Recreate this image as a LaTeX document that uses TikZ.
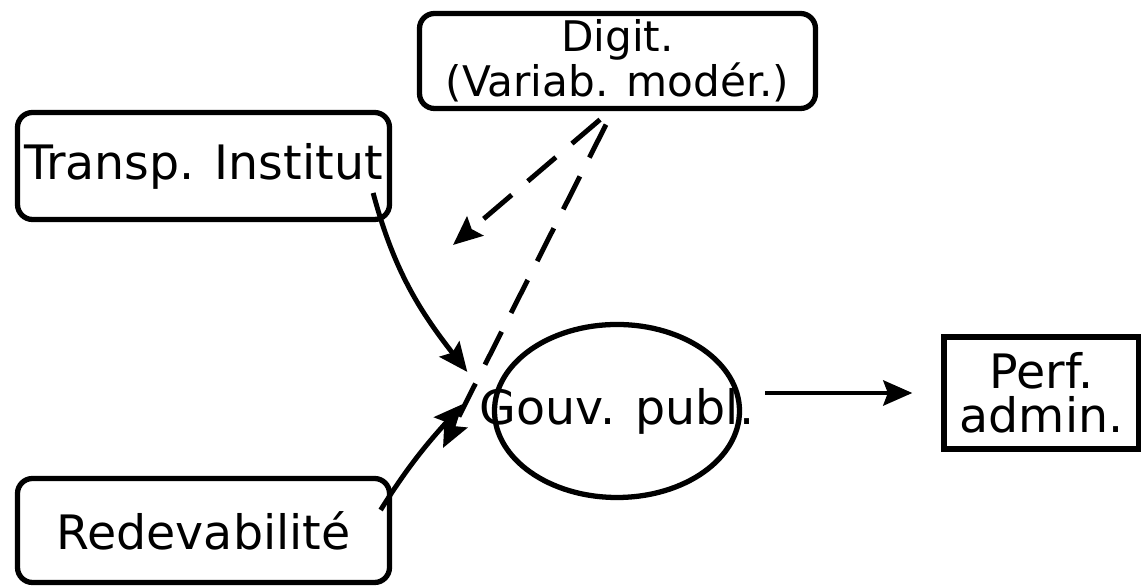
\documentclass[tikz,border=0pt]{standalone}
\usepackage{fontspec}
\setmainfont{DejaVu Sans}
\usetikzlibrary{arrows.meta,positioning,shapes.geometric,calc}

\tikzset{
  box/.style={draw, line width=3pt, rounded corners=0.3cm, inner sep=0pt,
    align=center, font=\fontsize{27}{29}\selectfont},
  plainbox/.style={draw, line width=3pt, inner sep=0pt, align=center,
    font=\fontsize{27}{25}\selectfont},
  conn/.style={line width=2.8pt, -{Stealth[length=5.8mm, width=5mm, inset=0.9mm]}},
  modconn/.style={conn, dash pattern=on 21pt off 12pt}
}

\begin{document}
\begin{tikzpicture}
\useasboundingbox (0,0) rectangle (22.82,11.76);

% variables
\node[box, minimum width=7.92cm, minimum height=1.9cm,
      font=\fontsize{24}{25.6}\selectfont] (digit) at (12.35,10.54) {Digit.\\(Variab. modér.)};
\node[box, minimum width=7.44cm, minimum height=2.14cm] (transp) at (4.07,8.44) {Transp. Institut};
\node[box, minimum width=7.44cm, minimum height=2.08cm] (redev) at (4.07,1.15) {Redevabilité};
\node[draw, ellipse, line width=3pt, minimum width=4.9cm, minimum height=3.46cm,
      label={[font=\fontsize{27}{29}\selectfont]center:Gouv. publ.}] (gouv) at (12.34,3.54) {};
\node[plainbox, minimum width=3.9cm, minimum height=2.24cm] (perf) at (20.83,3.90) {Perf.\\admin.};

% free ends of the moderating paths
\coordinate (modA) at (9.06,6.86);
\coordinate (modB) at (8.86,2.80);

% direct effects
\draw[conn] ([xshift=-0.38cm, yshift=-0.54cm]transp.east) to[out=-75, in=128]
            ([xshift=-0.49cm, yshift=0.78cm]gouv.west);
\draw[conn] ([xshift=-0.23cm, yshift=0.41cm]redev.east) to[out=58, in=-132]
            ([xshift=-0.58cm, yshift=0.14cm]gouv.west);
\draw[conn] ([xshift=0.46cm]gouv.east |- perf.west) -- ([xshift=-0.58cm]perf.west);

% moderation
\draw[modconn] ([xshift=-0.35cm, yshift=-0.17cm]digit.south) -- (modA);
\draw[modconn] ([xshift=-0.23cm, yshift=-0.27cm]digit.south) -- (modB);
\end{tikzpicture}
\end{document}
